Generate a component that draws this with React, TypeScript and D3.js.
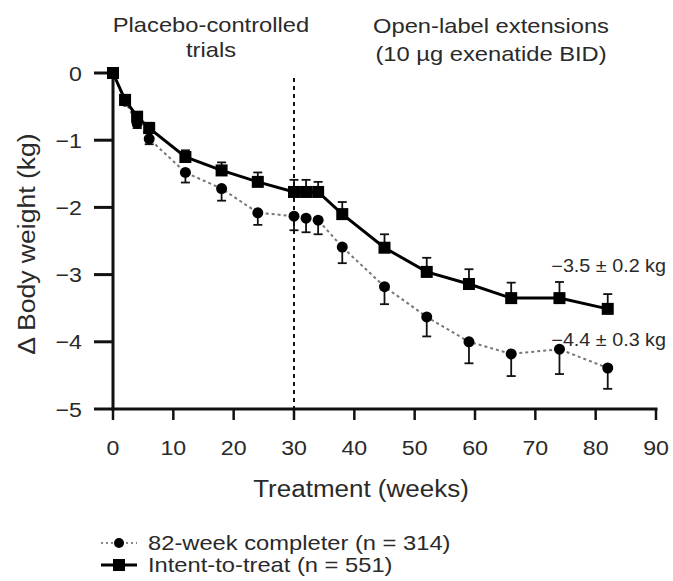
import React from "react";
import * as d3 from "d3";

// weeks of treatment
const weeks = [0, 2, 4, 6, 12, 18, 24, 30, 32, 34, 38, 45, 52, 59, 66, 74, 82];
// intent-to-treat (n = 551), mean and SE
const itt = [0, -0.4, -0.65, -0.82, -1.25, -1.45, -1.62, -1.77, -1.77, -1.77, -2.1, -2.6, -2.96, -3.14, -3.35, -3.35, -3.51];
const ittSe = [0, 0.05, 0.07, 0.08, 0.1, 0.12, 0.14, 0.18, 0.18, 0.15, 0.18, 0.2, 0.21, 0.22, 0.23, 0.24, 0.22];
// 82-week completer (n = 314)
const completer = [0, -0.42, -0.75, -0.98, -1.48, -1.72, -2.08, -2.13, -2.16, -2.19, -2.59, -3.18, -3.63, -4.0, -4.18, -4.11, -4.39];
const completerSe = [0, 0.05, 0.07, 0.08, 0.15, 0.18, 0.18, 0.21, 0.21, 0.21, 0.24, 0.26, 0.29, 0.32, 0.33, 0.37, 0.31];

const xTicks = [0, 10, 20, 30, 40, 50, 60, 70, 80, 90];
const yTicks = [0, -1, -2, -3, -4, -5];

const W = 673;
const H = 581;
const font = "'Liberation Sans', Arial, Helvetica, sans-serif";
const textColor = "#2a2a2a";
// the figure's typeface runs wider than Arial, so stretch along the text direction
const SX = 1.13;

type TProps = {
  x: number;
  y: number;
  size: number;
  anchor?: string;
  rotate?: number;
  children: React.ReactNode;
};

// stretched text
const T = ({ x, y, size, anchor = "start", rotate = 0, children }: TProps) => (
  <g transform={`translate(${x},${y}) rotate(${rotate}) scale(${SX},1)`}>
    <text textAnchor={anchor} fontSize={size} fill={textColor}>
      {children}
    </text>
  </g>
);

const App = () => {
  const x = d3.scaleLinear().domain([0, 90]).range([113, 656]);
  const y = d3.scaleLinear().domain([0, -5]).range([73, 409]);

  const line = d3
    .line<number>()
    .x((d, i) => x(weeks[i]))
    .y(d => y(d));

  const minus = (v: number) => (v < 0 ? "\u2212" + Math.abs(v) : String(v));

  return (
    <svg
      width={W}
      height={H}
      style={{ position: "absolute", left: 0, top: 0, background: "#fff" }}
      fontFamily={font}
    >
      {/* top annotations */}
      <T x={211} y={32} size={21} anchor="middle">Placebo-controlled</T>
      <T x={211} y={57} size={21} anchor="middle">trials</T>
      <T x={491} y={33} size={21} anchor="middle">Open-label extensions</T>
      <T x={491} y={61} size={21} anchor="middle">(10 µg exenatide BID)</T>

      {/* y axis */}
      <line x1={x(0)} x2={x(0)} y1={y(0)} y2={y(-5) + 1.5} stroke="#111" strokeWidth={3} />
      {yTicks.map(t => (
        <g key={t}>
          <line x1={x(0) - 19} x2={x(0)} y1={y(t)} y2={y(t)} stroke="#111" strokeWidth={3} />
          <T x={x(0) - 31} y={y(t) + 7.5} size={20.5} anchor="end">{minus(t)}</T>
        </g>
      ))}
      <T x={35} y={244} size={23.5} anchor="middle" rotate={-90}>
        Δ Body weight (kg)
      </T>

      {/* x axis */}
      <line x1={x(0) - 1.5} x2={x(90) + 1.5} y1={y(-5)} y2={y(-5)} stroke="#111" strokeWidth={3} />
      {xTicks.map(t => (
        <g key={t}>
          <line x1={x(t)} x2={x(t)} y1={y(-5)} y2={y(-5) + 11} stroke="#111" strokeWidth={2.5} />
          <T x={x(t)} y={y(-5) + 46} size={20.5} anchor="middle">{t}</T>
        </g>
      ))}
      <T x={361} y={497} size={23} anchor="middle">Treatment (weeks)</T>

      {/* vertical divider at 30 weeks */}
      <line x1={x(30)} x2={x(30)} y1={78} y2={y(-5)} stroke="#111" strokeWidth={2} strokeDasharray="4 4" />

      {/* completer series: dotted grey line, error bars downward */}
      <path d={line(completer) || ""} fill="none" stroke="#777" strokeWidth={2} strokeDasharray="3 3" />
      {completer.map((v, i) =>
        completerSe[i] > 0 ? (
          <g key={"ce" + i} stroke="#111" strokeWidth={1.8}>
            <line x1={x(weeks[i])} x2={x(weeks[i])} y1={y(v)} y2={y(v - completerSe[i])} />
            <line x1={x(weeks[i]) - 4.5} x2={x(weeks[i]) + 4.5} y1={y(v - completerSe[i])} y2={y(v - completerSe[i])} />
          </g>
        ) : null
      )}
      {completer.map((v, i) => (
        <circle key={"c" + i} cx={x(weeks[i])} cy={y(v)} r={5.5} fill="#000" />
      ))}

      {/* intent-to-treat series: solid black line, error bars upward */}
      <path d={line(itt) || ""} fill="none" stroke="#000" strokeWidth={3} />
      {itt.map((v, i) =>
        ittSe[i] > 0 ? (
          <g key={"ie" + i} stroke="#111" strokeWidth={1.8}>
            <line x1={x(weeks[i])} x2={x(weeks[i])} y1={y(v)} y2={y(v + ittSe[i])} />
            <line x1={x(weeks[i]) - 4.5} x2={x(weeks[i]) + 4.5} y1={y(v + ittSe[i])} y2={y(v + ittSe[i])} />
          </g>
        ) : null
      )}
      {itt.map((v, i) => (
        <rect key={"s" + i} x={x(weeks[i]) - 6} y={y(v) - 6} width={12} height={12} fill="#000" />
      ))}

      {/* end values */}
      <T x={666} y={272} size={17.5} anchor="end">−3.5 ± 0.2 kg</T>
      <T x={666} y={346} size={17.5} anchor="end">−4.4 ± 0.3 kg</T>

      {/* legend */}
      <line x1={101} x2={137} y1={543} y2={543} stroke="#888" strokeWidth={2} strokeDasharray="2 3" />
      <circle cx={119} cy={543} r={5} fill="#000" />
      <T x={148} y={550} size={21}>82-week completer (n = 314)</T>
      <line x1={101} x2={137} y1={565} y2={565} stroke="#000" strokeWidth={3} />
      <rect x={113} y={559} width={12} height={12} fill="#000" />
      <T x={148} y={572} size={21}>Intent-to-treat (n = 551)</T>
    </svg>
  );
};

export default App;
